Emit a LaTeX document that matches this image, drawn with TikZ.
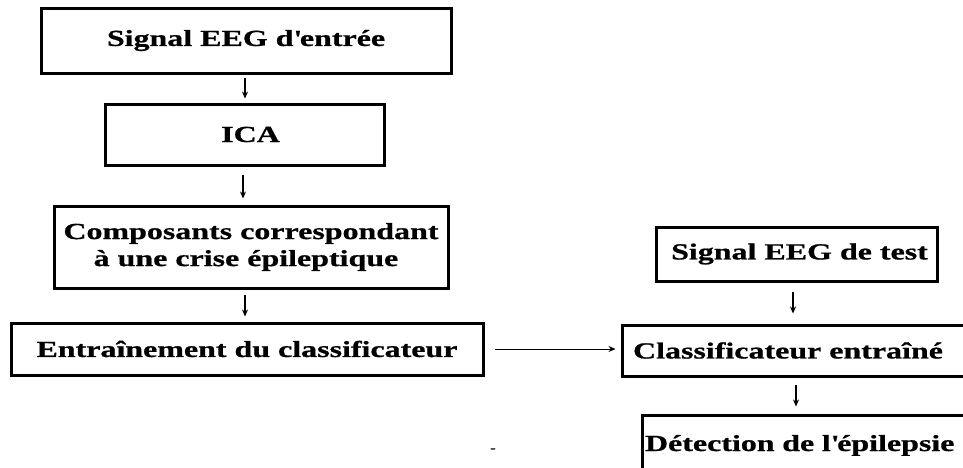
\documentclass[tikz,border=0pt]{standalone}
\usepackage{fontspec}
\setmainfont{Liberation Serif}[FakeStretch=1.39, FakeBold=0.8]
\usetikzlibrary{arrows.meta}
\begin{document}
\begin{tikzpicture}[x=1pt,y=-1pt,
  boxstyle/.style={draw=black, line width=3pt, rectangle, inner sep=0pt,
    font=\fontsize{23}{27}\selectfont\bfseries, align=center},
  arrowstyle/.style={line width=1.2pt, -{Stealth[length=7pt,width=6pt]}},
  harrow/.style={line width=0.8pt, -{Stealth[length=7pt,width=6pt]}}]
\useasboundingbox (0,0) rectangle (963,467);
\clip (0,0) rectangle (963,467);
\node[boxstyle, minimum width=410pt, minimum height=65pt] (b1) at (246,40.5) {\raisebox{4pt}{Signal EEG d\textquotesingle entrée}};
\node[boxstyle, minimum width=279pt, minimum height=61pt] (b2) at (244.5,134.5) {\hspace*{12pt}ICA};
\node[boxstyle, minimum width=394pt, minimum height=82pt] (b3) at (251,247) {\raisebox{0pt}{Composants correspondant}\\ \hspace*{-10pt}à une crise épileptique};
\node[boxstyle, minimum width=472pt, minimum height=52pt] (b4) at (247,349) {Entraînement du classificateur};
\node[boxstyle, minimum width=281pt, minimum height=54pt] (t1) at (796.5,254) {\hspace*{6pt}Signal EEG de test};
\node[boxstyle, minimum width=356pt, minimum height=51pt] (t2) at (800,350.5) {\hspace*{-24pt}Classificateur entraîné};
\node[boxstyle, minimum width=340pt, minimum height=62pt, inner xsep=3pt, text width=334pt, align=left] (t3) at (812,446) {\raisebox{6pt}{Détection de l\textquotesingle épilepsie}};
\node[font=\fontsize{12}{12}\selectfont, inner sep=0pt] (dash) at (493,450) {-};
\draw[arrowstyle, shorten <=3pt, shorten >=4pt] (b1.south -| 245,0) -- (b2.north -| 245,0);
\draw[arrowstyle, shorten <=8pt, shorten >=6pt] (b2.south -| 243,0) -- (b3.north -| 243,0);
\draw[arrowstyle, shorten <=5pt, shorten >=5pt] (b3.south -| 245,0) -- (b4.north -| 245,0);
\draw[harrow, shorten <=10pt, shorten >=5pt] (b4.east) -- (t2.west |- b4.east);
\draw[arrowstyle, shorten <=9pt, shorten >=10pt] (t1.south -| 793,0) -- (t2.north -| 793,0);
\draw[arrowstyle, shorten <=7pt, shorten >=7pt] (t2.south -| 796,0) -- (t3.north -| 796,0);
\end{tikzpicture}
\end{document}
